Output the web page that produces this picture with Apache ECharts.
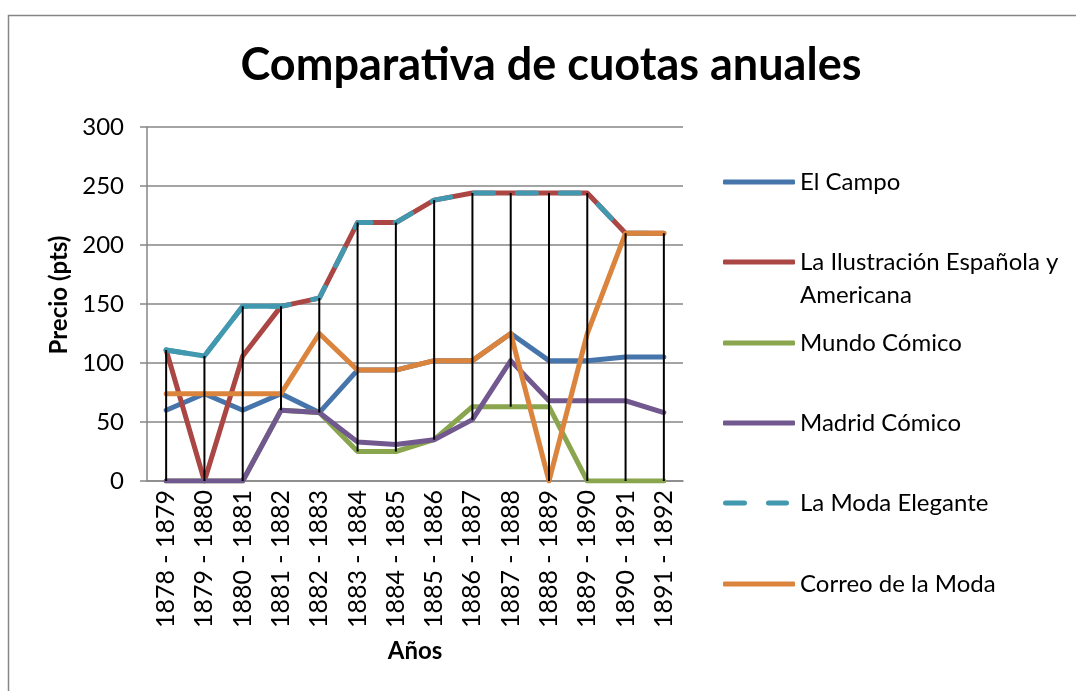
<!DOCTYPE html>
<html><head><meta charset="utf-8">
<script src="https://cdn.jsdelivr.net/npm/echarts@6/dist/echarts.min.js"></script>
<style>html,body{margin:0;padding:0;background:#fff}#c{width:1076px;height:691px}</style>
</head><body><div id="c"></div>
<script>
const categories = ['1878 - 1879','1879 - 1880','1880 - 1881','1881 - 1882','1882 - 1883','1883 - 1884','1884 - 1885','1885 - 1886','1886 - 1887','1887 - 1888','1888 - 1889','1889 - 1890','1890 - 1891','1891 - 1892'];
const seriesNames = ['El Campo','La Ilustración Española y Americana','Mundo Cómico','Madrid Cómico','La Moda Elegante','Correo de la Moda'];
const elCampo      = [60, 74, 60, 74, 58, 94, 94, 102, 102, 125, 102, 102, 105, 105];
const ilustracion  = [111, 0, 106, 148, 155, 219, 219, 238, 244, 244, 244, 244, 210, 210];
const mundoComico  = [0, 0, 0, 60, 58, 25, 25, 35, 63, 63, 63, 0, 0, 0];
const madridComico = [0, 0, 0, 60, 58, 33, 31, 35, 52, 102, 68, 68, 68, 58];
const modaElegante = [111, 106, 148, 148, 155, 219, 219, 238, 244, 244, 244, 244, 210, 210];
const correoModa   = [74, 74, 74, 74, 125, 94, 94, 102, 102, 125, 0, 125, 210, 210];
// early part of "La Moda Elegante" that the reference draws as a solid stroke
const modaEleganteSolida = [111, 106, 148, 148, null, null, null, null, null, null, null, null, null, null];
const yMin = 0, yMax = 300, yStep = 50;

const colors = ['#4675AC', '#AA4643', '#89A54E', '#71588F', '#4198AF', '#DB843D'];
const allData = [elCampo, ilustracion, mundoComico, madridComico, modaElegante, correoModa];
const highLow = categories.map((c, i) => {
  const vals = allData.map(s => s[i]);
  return [i, Math.max(...vals), Math.min(...vals)];
});

const FONT = 'Lato';
const LW = 5;
const legendCenters = [182, 262, 343, 423, 503, 584];

const chart = echarts.init(document.getElementById('c'));
const series = allData.map((d, k) => ({
  name: seriesNames[k],
  type: 'line',
  data: d,
  symbol: 'none',
  color: colors[k],
  lineStyle: k === 4
    ? { width: LW, color: colors[k], type: [19, 24], cap: 'round' }
    : { width: LW, color: colors[k], cap: 'round', join: 'round' }
}));
series.splice(5, 0, {
  name: 'moda-solida',
  type: 'line',
  data: modaEleganteSolida,
  symbol: 'none',
  color: colors[4],
  lineStyle: { width: LW, color: colors[4], cap: 'round', join: 'round' }
});
series.push({
  type: 'custom',
  silent: true,
  z: 10,
  data: highLow,
  encode: { x: 0, y: [1, 2] },
  renderItem: (params, api) => {
    const i = api.value(0);
    const p1 = api.coord([i, api.value(1)]);
    const p2 = api.coord([i, api.value(2)]);
    return { type: 'line', shape: { x1: p1[0], y1: p1[1], x2: p2[0], y2: p2[1] },
      style: { stroke: '#000', lineWidth: 2 } };
  }
});

const dashIcon = 'path://M0,0L0,0.01L0.01,0Z M2.5,0H21.5A2.5,2.5,0,0,1,21.5,5H2.5A2.5,2.5,0,0,1,2.5,0Z M45.5,0H63.5A2.5,2.5,0,0,1,63.5,5H45.5A2.5,2.5,0,0,1,45.5,0Z M72,5L72,4.99L71.99,5Z';
const legends = seriesNames.map((n, k) => {
  const two = k === 1;
  return {
    data: [n],
    orient: 'vertical',
    left: 723,
    top: two ? legendCenters[k] - 49.5 : legendCenters[k] - 16.5,
    padding: 0,
    itemWidth: 72,
    itemHeight: 5,
    itemGap: 0,
    icon: k === 4 ? dashIcon : 'roundRect',
    symbolKeepAspect: false,
    selectedMode: false,
    formatter: two ? '\nLa Ilustración Española y\nAmericana' : '{name}',
    textStyle: { fontFamily: FONT, fontSize: 24, color: '#000', lineHeight: 33 }
  };
});

chart.setOption({
  animation: false,
  backgroundColor: '#fff',
  title: {
    text: 'Comparativa de cuotas anuales',
    left: 546, textAlign: 'center', top: 38,
    textStyle: { fontFamily: FONT, fontSize: 45, fontWeight: 'bold', color: '#000' }
  },
  graphic: [{
    type: 'rect', silent: true, z: -1,
    shape: { x: 8.5, y: 15.5, width: 1200, height: 800 },
    style: { fill: 'none', stroke: '#868686', lineWidth: 1.5 }
  }],
  legend: legends,
  grid: { left: 147, right: 393, top: 127, bottom: 210, containLabel: false },
  xAxis: {
    type: 'category', data: categories, boundaryGap: true,
    axisLine: { lineStyle: { color: '#868686', width: 1.5 } },
    axisTick: { show: false },
    axisLabel: { rotate: 90, fontFamily: FONT, fontSize: 25, color: '#000', margin: 9, interval: 0 },
    name: 'Años', nameLocation: 'middle', nameGap: 158,
    nameTextStyle: { fontFamily: FONT, fontSize: 24, fontWeight: 'bold', color: '#000' }
  },
  yAxis: {
    type: 'value', min: yMin, max: yMax, interval: yStep,
    axisLine: { show: true, lineStyle: { color: '#868686', width: 1.5 } },
    axisTick: { show: true, length: 7, lineStyle: { color: '#868686', width: 1.5 } },
    axisLabel: { fontFamily: FONT, fontSize: 24, color: '#000', margin: 23 },
    splitLine: { lineStyle: { color: '#868686', width: 1.5 } },
    name: 'Precio (pts)', nameLocation: 'middle', nameGap: 76,
    nameTextStyle: { fontFamily: FONT, fontSize: 24, fontWeight: 'bold', color: '#000', padding: [0, 0, 0, 18] }
  },
  series: series
});
</script></body></html>
